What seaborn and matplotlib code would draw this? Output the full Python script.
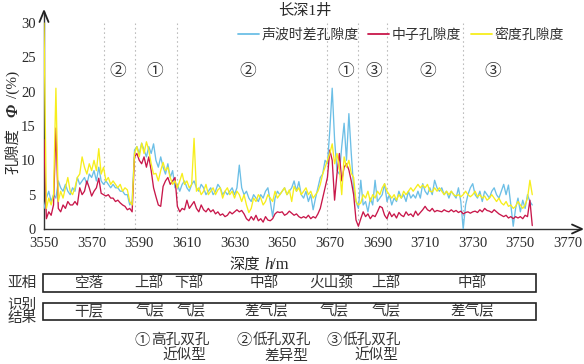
import numpy as np
import pandas as pd
import seaborn as sns
import matplotlib
matplotlib.use("Agg")
import matplotlib.pyplot as plt
from matplotlib.patches import Rectangle
from matplotlib.lines import Line2D

# ---------------- data ----------------
depth_start = 3550
depth_step = 1

sonic_porosity = [
    3.0, 4.5, 5.5, 4.0, 5.0, 4.5, 7.0, 6.0, 5.5, 6.5,
    5.5, 5.0, 6.0, 5.5, 7.5, 6.5, 7.0, 7.5, 6.5, 8.0,
    7.5, 8.5, 7.0, 9.0, 7.0, 6.5, 7.0, 6.5, 6.0, 6.5,
    6.0, 6.0, 5.5, 5.5, 5.0, 5.0, 3.5, 4.0, 11.5, 12.0,
    11.0, 12.5, 11.5, 10.5, 12.0, 11.0, 12.4, 10.0, 9.0, 10.5,
    9.0, 8.0, 9.5, 7.5, 8.5, 6.0, 6.5, 5.5, 6.5, 7.0,
    6.0, 5.5, 6.5, 7.0, 6.0, 5.5, 6.5, 6.0, 5.0, 5.5,
    6.0, 5.0, 5.5, 6.5, 6.0, 5.0, 5.5, 5.0, 5.5, 6.0,
    5.0, 6.0, 9.3, 6.0, 5.0, 5.5, 4.5, 4.0, 5.0, 4.5,
    4.0, 5.0, 4.5, 5.5, 6.0, 4.0, 1.8, 4.5, 5.5, 5.0,
    5.5, 6.0, 5.0, 5.5, 6.0, 7.0, 5.5, 6.9, 5.0, 4.5,
    5.5, 4.0, 5.0, 2.8, 4.5, 6.0, 7.5, 8.0, 10.0, 9.5,
    14.4, 20.5, 13.0, 8.5, 8.0, 12.0, 15.4, 10.0, 16.8, 11.0,
    6.0, 4.0, 3.0, 7.1, 3.5, 4.0, 2.5, 4.5, 3.5, 7.1,
    4.0, 4.5, 5.0, 6.6, 4.0, 5.0, 3.5, 4.5, 4.0, 5.5,
    4.5, 5.0, 4.0, 5.5, 4.5, 5.0, 4.5, 5.5, 4.5, 6.6,
    5.5, 5.0, 6.0, 5.0, 7.1, 6.0, 5.5, 6.0, 5.0, 5.5,
    4.5, 5.5, 5.0, 4.5, 6.0, 4.0, 0.0, 3.5, 5.0, 6.0,
    6.6, 5.0, 4.5, 5.5, 4.0, 5.5, 5.0, 4.5, 5.5, 6.0,
    5.0, 4.5, 5.5, 6.5, 5.0, 6.4, 3.5, 0.4, 3.0, 4.5,
    2.5, 4.2, 3.0, 5.0, 4.0, 3.5,
]

neutron_porosity = [
    13.0, 1.5, 2.5, 2.0, 3.5, 14.7, 3.0, 2.5, 3.5, 3.0,
    4.0, 3.5, 3.5, 4.0, 3.5, 6.0, 5.0, 5.5, 7.0, 6.0,
    4.8, 5.5, 6.0, 7.4, 5.2, 5.0, 4.8, 5.0, 4.5, 4.5,
    4.0, 4.2, 3.8, 3.5, 3.3, 2.8, 3.0, 2.5, 10.5, 11.0,
    10.0, 9.5, 10.5, 9.0, 10.5, 8.5, 6.0, 4.7, 3.5, 3.3,
    6.2, 7.0, 7.5, 6.5, 7.0, 7.5, 3.3, 2.5, 3.0, 2.8,
    4.2, 3.0, 3.5, 4.0, 3.0, 2.5, 3.5, 2.8, 2.5, 3.0,
    2.5, 2.8, 2.2, 2.5, 2.0, 2.2, 1.8, 2.0, 2.5, 2.2,
    2.5, 2.8, 2.5, 2.7, 2.2, 1.5, 1.2, 1.8, 1.3, 2.0,
    1.2, 1.5, 1.0, 1.8, 1.3, 1.2, 1.5, 2.2, 2.5, 2.4,
    2.5, 2.0, 2.2, 2.6, 2.3, 2.0, 2.2, 1.8, 1.6, 1.8,
    1.6, 2.0, 1.5, 1.8, 1.6, 2.2, 3.0, 4.5, 6.0, 7.5,
    11.5, 10.0, 4.2, 8.0, 11.0, 7.0, 9.0, 9.5, 8.6, 7.0,
    5.0, 1.3, 0.4, 1.5, 2.5, 1.8, 2.2, 1.5, 2.0, 1.8,
    2.5, 3.3, 3.1, 2.0, 1.5, 2.5, 1.8, 2.2, 1.6, 2.4,
    2.0, 1.8, 2.5, 2.0, 2.2, 1.8, 2.6, 2.0, 2.4, 2.8,
    3.3, 2.8, 2.6, 3.0, 2.5, 2.7, 2.6, 2.5, 2.8, 2.6,
    2.5, 2.8, 2.5, 2.7, 2.4, 2.6, 2.2, 2.4, 2.5, 2.3,
    2.5, 2.6, 2.4, 2.8, 2.5, 3.0, 2.7, 2.6, 2.4, 2.8,
    2.5, 2.2, 2.0, 1.8, 2.0, 1.6, 1.8, 1.5, 1.8, 1.6,
    1.8, 1.5, 2.0, 1.8, 4.2, 0.5,
]

density_porosity = [
    30.0, 3.0, 4.5, 3.5, 5.0, 20.5, 4.0, 5.5, 4.5, 6.0,
    7.5, 5.5, 5.0, 6.0, 7.5, 8.0, 10.5, 9.0, 8.0, 9.5,
    8.5, 10.0, 8.5, 11.7, 8.0, 9.0, 7.0, 7.5, 6.5, 7.0,
    6.5, 6.0, 6.5, 5.5, 6.0, 5.7, 4.0, 3.5, 11.0, 12.0,
    10.5, 12.5, 11.0, 12.7, 11.5, 9.5, 8.0, 8.1, 7.0, 8.5,
    9.7, 8.5, 9.0, 7.5, 6.5, 7.0, 6.0, 7.0, 8.1, 6.5,
    7.0, 6.0, 6.5, 13.2, 5.5, 6.0, 5.0, 5.5, 6.5, 5.0,
    5.5, 6.0, 5.0, 5.7, 6.0, 4.5, 5.5, 6.0, 5.0, 5.5,
    4.5, 5.5, 5.0, 4.0, 5.0, 3.5, 2.4, 3.0, 4.5, 4.0,
    5.0, 4.5, 3.5, 4.0, 5.0, 4.5, 4.0, 5.5, 4.5, 5.0,
    5.5, 6.0, 5.0, 5.7, 4.0, 6.2, 5.5, 6.0, 5.0, 5.5,
    6.0, 5.0, 5.5, 4.5, 5.0, 5.5, 6.5, 8.0, 9.0, 10.0,
    11.0, 12.4, 9.5, 11.0, 9.0, 5.0, 10.5, 9.0, 10.0, 8.1,
    7.5, 4.0, 3.5, 3.8, 5.0, 4.5, 5.5, 4.0, 5.0, 4.5,
    5.5, 5.0, 6.0, 6.6, 5.5, 5.0, 4.5, 5.0, 4.2, 5.0,
    4.5, 5.5, 5.0, 5.5, 6.0, 5.5, 6.0, 6.5, 6.0, 6.4,
    6.0, 6.5, 5.5, 5.4, 6.0, 5.5, 6.0, 5.5, 5.0, 5.5,
    5.0, 5.5, 5.0, 4.8, 5.0, 4.7, 5.0, 5.5, 5.0, 4.7,
    5.0, 5.5, 4.7, 5.0, 4.5, 4.8, 4.2, 4.5, 5.0, 4.5,
    4.0, 4.5, 3.8, 3.5, 4.0, 3.3, 3.5, 3.0, 3.3, 4.0,
    3.5, 3.0, 3.5, 4.5, 7.1, 5.0,
]

series_names = ["声波时差孔隙度", "中子孔隙度", "密度孔隙度"]
series_colors = ["#6cbfe6", "#c8174a", "#f7ee1c"]

x_ticks = [3550, 3570, 3590, 3610, 3630, 3650, 3670, 3690, 3710, 3730, 3750, 3770]
y_ticks = [0, 5, 10, 15, 20, 25, 30]

zone_bounds = [3575, 3588, 3606, 3669, 3682, 3694, 3726]
zone_marks = ["②", "①", "②", "①", "③", "②", "③"]
zone_mark_depths = [3581, 3596.5, 3635.5, 3676.5, 3688.5, 3711, 3738.5]

subfacies = ["空落", "上部", "下部", "中部", "火山颈", "上部", "中部"]
subfacies_x = [89, 149, 189, 264, 331, 386, 472]
result = ["干层", "气层", "气层", "差气层", "气层", "气层", "差气层"]
result_x = [89, 150, 191, 266, 334, 386, 472]

# ---------------- style ----------------
sns.set_style("white")
plt.rcParams["font.family"] = ["Liberation Serif", "Noto Sans CJK SC"]
plt.rcParams["axes.unicode_minus"] = False

W, H = 584, 364
fig = plt.figure(figsize=(W / 100, H / 100), dpi=100)

def fx(px):
    return px / W

def fy(py):
    return 1 - py / H

TXT = "#2a2a2a"
CJK_W = "light"
ax_left, ax_right, ax_top, ax_bottom = 44, 581, 12, 229
ax = fig.add_axes([fx(ax_left), fy(ax_bottom), (ax_right - ax_left) / W, (ax_bottom - ax_top) / H])

n = len(sonic_porosity)
depth = depth_start + depth_step * np.arange(n)
df = pd.DataFrame({
    "depth": np.concatenate([depth, depth, depth]),
    "porosity": np.concatenate([sonic_porosity, neutron_porosity, density_porosity]),
    "curve": np.repeat(series_names, n),
})

order_draw = [0, 2, 1]
for i in order_draw:
    sub = df[df["curve"] == series_names[i]]
    sns.lineplot(data=sub, x="depth", y="porosity", ax=ax, color=series_colors[i],
                 lw=0.95, estimator=None, sort=False, zorder=3 + i)

y_top = 31.6
px_per_m = (568 - 44) / 220
ax.set_xlim(3550, 3550 + (ax_right - ax_left) / px_per_m)
ax.set_ylim(0, y_top)
ax.set_xticks(x_ticks)
ax.set_yticks(y_ticks)
ax.set_xlabel("")
ax.set_ylabel("")
ax.tick_params(axis="both", direction="out", length=4, width=0.9, labelsize=10.5,
               colors=TXT, pad=2)
for s in ["top", "right"]:
    ax.spines[s].set_visible(False)
for s in ["left", "bottom"]:
    ax.spines[s].set_color("#333333")
    ax.spines[s].set_linewidth(1.0)
if ax.get_legend():
    ax.get_legend().remove()

# arrow heads (open chevrons) at the axis ends, drawn above everything
AX_C = "#222222"
fig.add_artist(Line2D([fx(572), fx(582), fx(572)], [fy(224.5), fy(229), fy(233.5)],
                      color=AX_C, lw=1.3, transform=fig.transFigure, zorder=10))
fig.add_artist(Line2D([fx(39.5), fx(44), fx(48.5)], [fy(22), fy(11), fy(22)],
                      color=AX_C, lw=1.3, transform=fig.transFigure, zorder=10))

# zone boundaries
for d in zone_bounds:
    ax.axvline(d, ymin=0, ymax=30 / y_top, color="#bdbdbd", lw=0.8,
               ls=(0, (1.5, 2.5)), zorder=1)
for m, d in zip(zone_marks, zone_mark_depths):
    ax.text(d, 22.9, m, ha="center", va="center", fontsize=12, weight=CJK_W,
            family=["Noto Sans CJK SC"], color="#333333")

# title, legend
fig.text(fx(305), fy(11), "长深1井", ha="center", va="center", fontsize=11, color=TXT,
         weight=CJK_W)
handles = [Line2D([], [], color=c, lw=1.3) for c in series_colors]
fig.legend(handles, series_names, loc="center", bbox_to_anchor=(fx(401), fy(35)),
           ncol=3, frameon=False, handlelength=1.5, handletextpad=0.2,
           columnspacing=0.7, labelcolor="#333333", prop={"size": 10, "weight": CJK_W})

# y label pieces (rotated)
fig.text(fx(13), fy(151), "孔隙度", ha="center", va="center", rotation=90,
         fontsize=11, color=TXT, weight=CJK_W)
fig.text(fx(13), fy(110), "Φ", ha="center", va="center", rotation=90,
         fontsize=12, color=TXT, family=["Liberation Serif"], style="italic", weight="bold")
fig.text(fx(13), fy(84), "/(%)", ha="center", va="center", rotation=90,
         fontsize=11, color=TXT, family=["Liberation Serif"])

# x label pieces
fig.text(fx(260), fy(265), "深度", ha="right", va="center", fontsize=11, color=TXT,
         weight=CJK_W)
fig.text(fx(264), fy(265), "h", ha="left", va="center", fontsize=12, color=TXT,
         family=["Liberation Serif"], style="italic")
fig.text(fx(271), fy(265), "/m", ha="left", va="center", fontsize=12, color=TXT,
         family=["Liberation Serif"])

# table rows
box_l, box_r = 43, 536
rows = [(274, 292, subfacies, subfacies_x), (303, 320, result, result_x)]
for (t, b, labels, xs) in rows:
    fig.add_artist(Rectangle((fx(box_l), fy(b)), (box_r - box_l) / W, (b - t) / H,
                             transform=fig.transFigure, fill=False, ec="#222222", lw=1.2))
    for lab, x in zip(labels, xs):
        fig.text(fx(x), fy((t + b) / 2), lab, ha="center", va="center", fontsize=10.5,
                 color="#333333", weight=CJK_W)
fig.text(fx(22), fy(283), "亚相", ha="center", va="center", fontsize=10.5, color="#333333",
         weight=CJK_W)
fig.text(fx(22), fy(312), "识别\n结果", ha="center", va="center", fontsize=10.5,
         color="#333333", linespacing=0.95, weight=CJK_W)

# footnote
notes = [("①", "高孔双孔", "近似型", 142), ("②", "低孔双孔", "差异型", 244), ("③", "低孔双孔", "近似型", 334)]
for mark, l1, l2, x in notes:
    fig.text(fx(x), fy(340), mark, ha="center", va="center", fontsize=11,
             family=["Noto Sans CJK SC"], color="#333333", weight=CJK_W)
    fig.text(fx(x + 9), fy(340), l1, ha="left", va="center", fontsize=10.5, color="#333333",
             weight=CJK_W)
    fig.text(fx(x + 42), fy(356), l2, ha="center", va="center", fontsize=10.5, color="#333333",
             weight=CJK_W)

fig.savefig("out.png", dpi=100)
